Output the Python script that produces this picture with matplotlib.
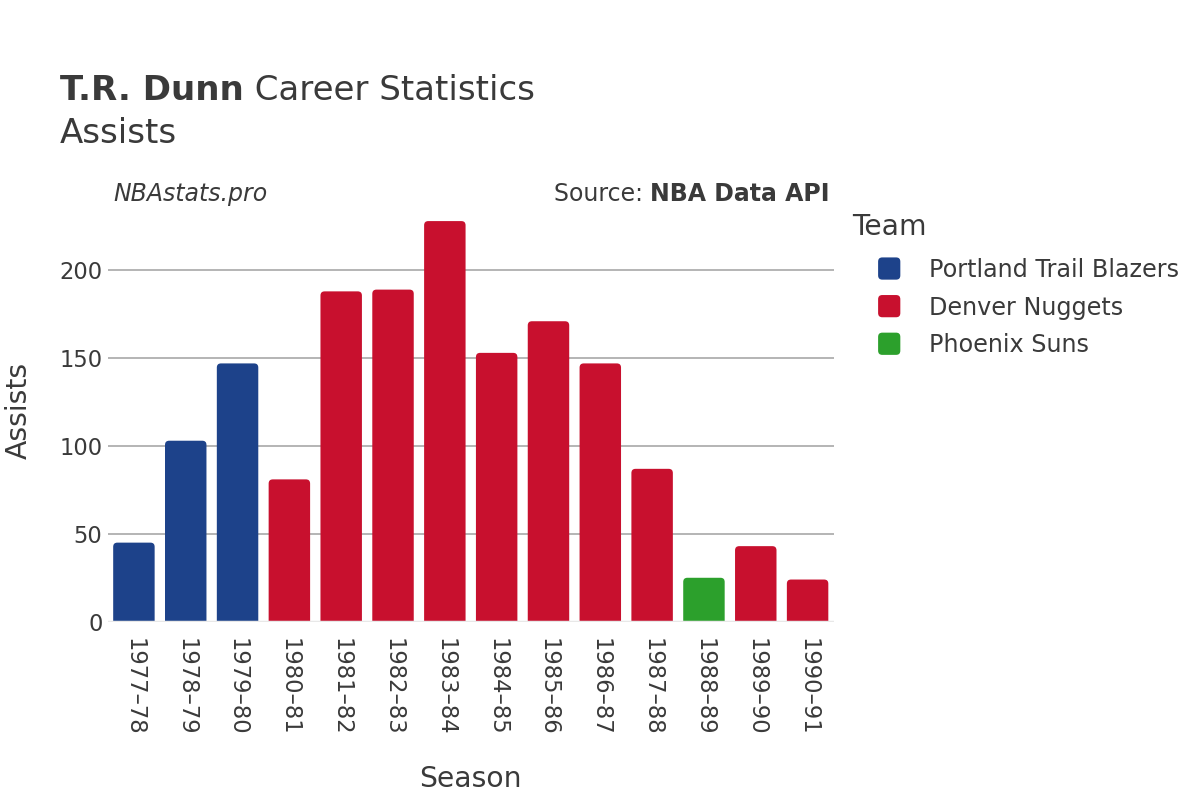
import matplotlib.pyplot as plt
from matplotlib.patches import FancyBboxPatch, Patch
from matplotlib.legend_handler import HandlerPatch

seasons = ["1977–78", "1978–79", "1979–80", "1980–81", "1981–82", "1982–83", "1983–84",
           "1984–85", "1985–86", "1986–87", "1987–88", "1988–89", "1989–90", "1990–91"]
assists = [45, 103, 147, 81, 188, 189, 228, 153, 171, 147, 87, 25, 43, 24]
teams = ["Portland Trail Blazers"] * 3 + ["Denver Nuggets"] * 8 + ["Phoenix Suns"] + ["Denver Nuggets"] * 2
team_order = ["Portland Trail Blazers", "Denver Nuggets", "Phoenix Suns"]
team_colors = {"Portland Trail Blazers": "#1d428a", "Denver Nuggets": "#c8102e", "Phoenix Suns": "#2ca02c"}
y_ticks = [0, 50, 100, 150, 200]

TXT = "#3a3a3a"
plt.rcParams['font.family'] = ['DejaVu Sans']

fig = plt.figure(figsize=(12, 8), dpi=100)
ax_left, ax_right, ax_bot, ax_top = 108, 833.5, 621.7, 200
ax = fig.add_axes([ax_left / 1200, 1 - ax_bot / 800,
                   (ax_right - ax_left) / 1200, (ax_bot - ax_top) / 800])
ax.set_xlim(-0.5, len(seasons) - 0.5)
ax.set_ylim(0, 240)

# grid
for t in y_ticks[1:]:
    ax.axhline(t, color="#a0a0a0", lw=1.1, zorder=0)
ax.axhline(0, color="#e8e8e8", lw=2.5, zorder=3)

# bars, rounded at the top (bottom part hidden below zero)
bars = ax.bar(range(len(seasons)), assists, width=0.8,
              color=[team_colors[t] for t in teams])
aspect = (240 / (ax_bot - ax_top)) / (len(seasons) / (ax_right - ax_left))
r = 0.08
for b in bars:
    x, w, h = b.get_x(), b.get_width(), b.get_height()
    p = FancyBboxPatch((x, -r * aspect * 2), w, h + r * aspect * 2,
                       boxstyle=f"round,pad=0,rounding_size={r}",
                       mutation_aspect=aspect, fc=b.get_facecolor(), ec="none", zorder=2)
    ax.add_patch(p)
    b.set_visible(False)

for s in ax.spines.values():
    s.set_visible(False)
ax.set_yticks(y_ticks)
ax.set_yticklabels([str(t) for t in y_ticks], fontsize=16.3, color=TXT)
ax.set_xticks(range(len(seasons)))
ax.set_xticklabels(seasons, rotation=270, fontsize=16.3, color=TXT)
ax.tick_params(axis="x", length=0, pad=12)
ax.tick_params(axis="y", length=0, pad=4)
ax.set_xlabel("Season", fontsize=20.3, color=TXT)
ax.xaxis.set_label_coords(0.5, -(765 - ax_bot) / (ax_bot - ax_top))
ax.set_ylabel("Assists", fontsize=20.3, color=TXT)
ax.yaxis.set_label_coords(-(ax_left - 33) / (ax_right - ax_left), 0.5)

# titles
ann = dict(textcoords="offset points", xytext=(0, 0), va="bottom", color=TXT)
t1 = fig.text(0.05, 0.875, "T.R. Dunn", fontsize=24.5, fontweight="bold", color=TXT, va="baseline")
fig.add_artist(plt.Annotation(" Career Statistics", xy=(1, 0), xycoords=t1,
                              ha="left", fontsize=24.5, **ann))
fig.text(0.05, 0.821, "Assists", fontsize=24.5, color=TXT, va="baseline")
fig.text(113 / 1200, 0.749, "NBAstats.pro", fontsize=17, style="italic", color=TXT, va="baseline")
t2 = fig.text(830 / 1200, 0.749, "NBA Data API", fontsize=17, fontweight="bold", color=TXT,
              va="baseline", ha="right")
fig.add_artist(plt.Annotation("Source: ", xy=(0, 0), xycoords=t2,
                              ha="right", fontsize=17, **ann))


# legend with rounded square markers
def rounded_square(legend, orig_handle, xdescent, ydescent, width, height, fontsize):
    s = 16
    x0 = -xdescent + width - s - 7
    y0 = -ydescent + height / 2 - s / 2
    return FancyBboxPatch((x0, y0), s, s, boxstyle="round,pad=0,rounding_size=3")


handles = [Patch(fc=team_colors[t], ec="none") for t in team_order]
leg = fig.legend(handles, team_order, loc="upper left", bbox_to_anchor=(852 / 1200, 0.734),
                 frameon=False, title="Team", title_fontsize=20.3, fontsize=17.2,
                 alignment="left", handlelength=2.43, handletextpad=0.8,
                 labelspacing=0.57, borderaxespad=0, borderpad=0,
                 handler_map={Patch: HandlerPatch(patch_func=rounded_square)})
leg._legend_box.sep = 0.57 * 17.2 + 2.5
leg.get_title().set_color(TXT)
for txt in leg.get_texts():
    txt.set_color(TXT)

fig.savefig("out.png", dpi=100)
